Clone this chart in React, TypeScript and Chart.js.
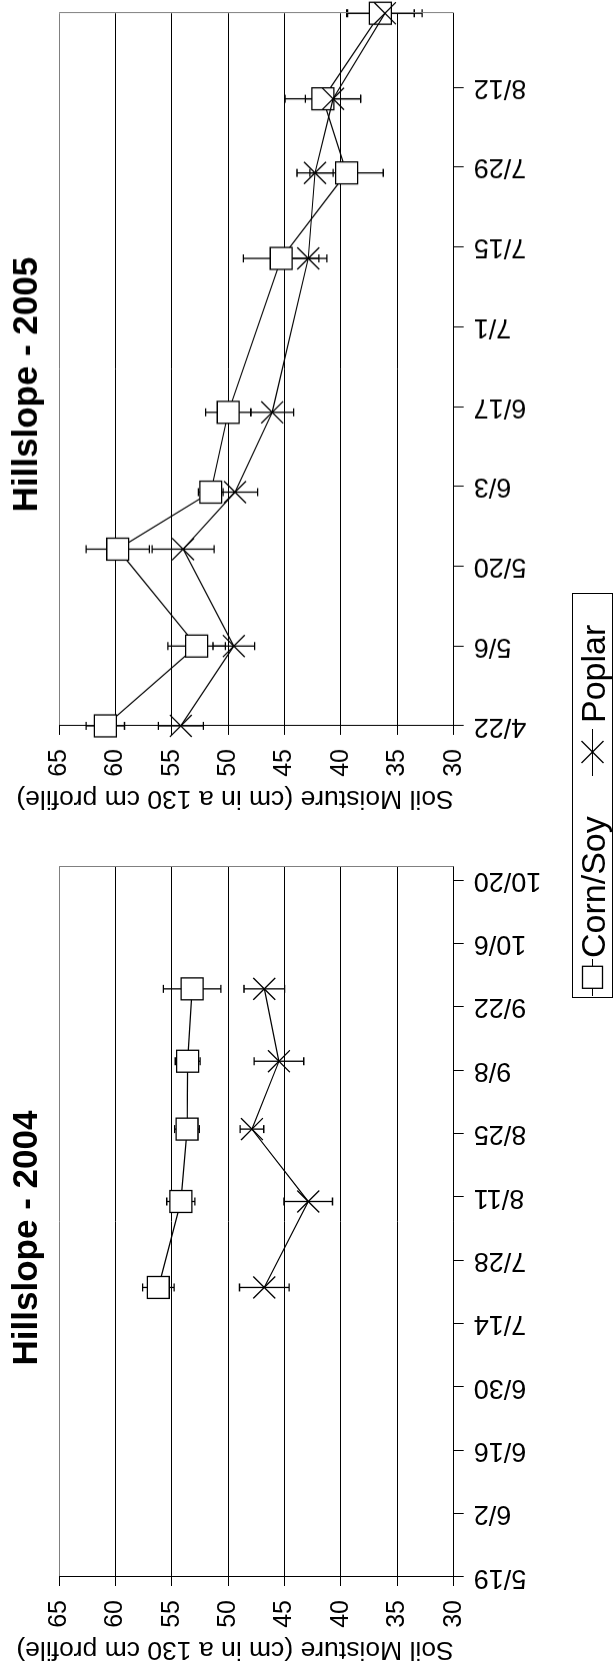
import { useEffect, useRef } from 'react';
import { Chart, registerables } from 'chart.js';

Chart.register(...registerables);

const FONT = '"Liberation Sans", Arial, Helvetica, sans-serif';

// Soil moisture axis (cm of water in a 130 cm profile)
const moistureMin = 30;
const moistureMax = 65;
const moistureStep = 5;
const moistureTitle = 'Soil Moisture (cm in a 130 cm profile)';

// Hillslope 2004
const title2004 = 'Hillslope - 2004';
const range2004 = ['5/19', '10/23'];
const ticks2004 = ['5/19', '6/2', '6/16', '6/30', '7/14', '7/28', '8/11', '8/25', '9/8', '9/22', '10/6', '10/20'];
const dates2004 = ['7/22', '8/10', '8/26', '9/10', '9/26'];
const cornSoy2004 = [56.2, 54.2, 53.65, 53.6, 53.2];
const cornSoyErr2004 = [1.4, 1.25, 1.1, 1.1, 2.55];
const poplar2004 = [46.8, 42.9, 47.9, 45.5, 46.8];
const poplarErr2004 = [2.2, 2.15, 1.05, 2.2, 1.8];

// Hillslope 2005
const title2005 = 'Hillslope - 2005';
const range2005 = ['4/22', '8/25'];
const ticks2005 = ['4/22', '5/6', '5/20', '6/3', '6/17', '7/1', '7/15', '7/29', '8/12'];
const dates2005 = ['4/22', '5/6', '5/23', '6/2', '6/16', '7/13', '7/28', '8/10', '8/25'];
const cornSoy2005 = [60.9, 52.8, 59.8, 51.55, 50.0, 45.3, 39.5, 41.6, 36.5];
const cornSoyErr2005 = [1.7, 2.55, 2.8, 1.1, 2.0, 3.35, 3.25, 3.35, 3.0];
const poplar2005 = [54.2, 49.5, 54.0, 49.4, 46.1, 42.9, 42.3, 40.7, 36.1];
const poplarErr2005 = [2.0, 1.85, 2.75, 2.0, 1.9, 1.65, 1.6, 2.45, 3.3];

const seriesNames = ['Corn/Soy', 'Poplar'];

function dayOfYear(md: string, year: number): number {
  const [m, d] = md.split('/').map(Number);
  return Math.round((Date.UTC(year, m - 1, d) - Date.UTC(year, 0, 1)) / 86400000);
}

// Vertical error bars with caps, drawn beneath the markers
const errorBars = {
  id: 'errorBars',
  beforeDatasetsDraw(chart: any) {
    const { ctx } = chart;
    const xs = chart.scales.x;
    const ys = chart.scales.y;
    ctx.save();
    ctx.strokeStyle = '#000';
    ctx.lineWidth = 1.3;
    chart.data.datasets.forEach((ds: any) => {
      const errs: number[] = ds.errors || [];
      ds.data.forEach((p: any, j: number) => {
        const e = errs[j];
        if (!e) return;
        const px = xs.getPixelForValue(p.x);
        const lo = ys.getPixelForValue(p.y - e);
        const hi = ys.getPixelForValue(p.y + e);
        ctx.beginPath();
        ctx.moveTo(px, lo);
        ctx.lineTo(px, hi);
        ctx.moveTo(px - 4, lo);
        ctx.lineTo(px + 4, lo);
        ctx.moveTo(px - 4, hi);
        ctx.lineTo(px + 4, hi);
        ctx.stroke();
      });
    });
    ctx.restore();
  },
};

// Gray plot-area border on the right side
const plotFrame = {
  id: 'plotFrame',
  beforeDatasetsDraw(chart: any) {
    const { ctx, chartArea: a } = chart;
    ctx.save();
    ctx.strokeStyle = '#808080';
    ctx.lineWidth = 1;
    const x = Math.round(a.right) + 0.5;
    ctx.beginPath();
    ctx.moveTo(x, a.top);
    ctx.lineTo(x, a.bottom);
    ctx.stroke();
    ctx.restore();
  },
};

type PanelProps = {
  title: string;
  year: number;
  range: string[];
  tickLabels: string[];
  dates: string[];
  corn: number[];
  cornErr: number[];
  poplar: number[];
  poplarErr: number[];
  left: number;
  width: number;
  yAxisWidth: number;
  rightMargin: number;
};

function Panel(props: PanelProps) {
  const ref = useRef<HTMLCanvasElement>(null);
  useEffect(() => {
    const { title, year, range, tickLabels, dates, corn, cornErr, poplar, poplarErr, yAxisWidth, rightMargin } = props;
    const pts = (vals: number[]) => vals.map((v, i) => ({ x: dayOfYear(dates[i], year), y: v }));
    const chart = new Chart(ref.current as HTMLCanvasElement, {
      type: 'line',
      data: {
        datasets: [
          {
            label: seriesNames[0],
            data: pts(corn),
            errors: cornErr,
            order: 2,
            pointStyle: 'rect',
            pointRadius: 15.5,
            pointHoverRadius: 15.5,
            pointBackgroundColor: '#ffffff',
            pointBorderColor: '#000000',
            pointBorderWidth: 1.3,
            borderColor: '#000000',
            borderWidth: 1.2,
            tension: 0,
            clip: false,
          } as any,
          {
            label: seriesNames[1],
            data: pts(poplar),
            errors: poplarErr,
            order: 1,
            pointStyle: 'crossRot',
            pointRadius: 15.5,
            pointHoverRadius: 15.5,
            pointBackgroundColor: '#000000',
            pointBorderColor: '#000000',
            pointBorderWidth: 1.3,
            borderColor: '#000000',
            borderWidth: 1.2,
            tension: 0,
            clip: false,
          } as any,
        ],
      },
      options: {
        responsive: false,
        animation: false,
        devicePixelRatio: 1,
        events: [],
        layout: { padding: 0 },
        plugins: {
          legend: { display: false },
          tooltip: { enabled: false },
          title: {
            display: true,
            text: title,
            color: '#000',
            font: { family: FONT, size: 35, weight: 'bold', lineHeight: 1.2 },
            padding: { top: 6.5, bottom: 10.6 },
          },
        },
        scales: {
          x: {
            type: 'linear',
            min: dayOfYear(range[0], year),
            max: dayOfYear(range[1], year),
            afterBuildTicks: (s: any) => {
              s.ticks = tickLabels.map((t) => ({ value: dayOfYear(t, year) }));
            },
            afterFit: (s: any) => {
              s.height = 613 - 453.7;
            },
            ticks: {
              autoSkip: false,
              minRotation: 90,
              maxRotation: 90,
              padding: 10,
              color: '#000',
              font: { family: FONT, size: 27 },
              callback: (_v: any, i: number) => tickLabels[i],
            },
            grid: { drawOnChartArea: false, drawTicks: true, tickLength: 10, color: '#000', lineWidth: 1 },
            border: { display: true, color: '#000', width: 1 },
          },
          y: {
            type: 'linear',
            position: 'left',
            min: moistureMin,
            max: moistureMax,
            afterFit: (s: any) => {
              s.width = yAxisWidth;
            },
            ticks: {
              stepSize: moistureStep,
              padding: 14,
              color: '#000',
              font: { family: FONT, size: 25 },
            },
            grid: {
              color: (c: any) => (c.tick && c.tick.value === moistureMax ? '#808080' : '#000000'),
              tickColor: '#000',
              tickLength: 9,
              lineWidth: 1,
            },
            border: { display: true, color: '#000', width: 1 },
            title: {
              display: true,
              text: moistureTitle,
              align: 'start',
              color: '#000',
              font: { family: FONT, size: 26.5, lineHeight: 1.2 },
              padding: { top: 5.5, bottom: 0 },
            },
          },
          // empty margin to the right of the plot area
          margin: {
            type: 'linear',
            position: 'right',
            display: true,
            min: 0,
            max: 1,
            ticks: { display: false },
            grid: { display: false, drawTicks: false },
            border: { display: false },
            afterFit: (s: any) => {
              s.width = rightMargin;
            },
          },
        },
      } as any,
      plugins: [errorBars, plotFrame],
    });
    return () => chart.destroy();
  }, []);
  return (
    <canvas
      ref={ref}
      width={props.width}
      height={613}
      style={{ position: 'absolute', left: props.left, top: 0, width: props.width, height: 613 }}
    />
  );
}

function Legend() {
  const text: any = {
    position: 'absolute',
    top: 0,
    height: 40,
    lineHeight: '40px',
    fontFamily: FONT,
    fontSize: 34,
    color: '#000',
    whiteSpace: 'nowrap',
  };
  return (
    <div
      style={{
        position: 'absolute',
        left: 673,
        top: 572,
        width: 405,
        height: 41,
        border: '1px solid #000',
        boxSizing: 'border-box',
        background: '#fff',
      }}
    >
      <svg width={40} height={40} style={{ position: 'absolute', left: 0, top: 0 }}>
        <line x1={1} y1={19.5} x2={38} y2={19.5} stroke="#000" strokeWidth={1.2} />
        <rect x={8.7} y={9.5} width={22} height={20} fill="#fff" stroke="#000" strokeWidth={1.3} />
      </svg>
      <span style={{ ...text, left: 39 }}>{seriesNames[0]}</span>
      <svg width={50} height={40} style={{ position: 'absolute', left: 220, top: 0 }}>
        <line x1={1} y1={19.5} x2={48} y2={19.5} stroke="#000" strokeWidth={1.2} />
        <line x1={14} y1={8.5} x2={36} y2={30.5} stroke="#000" strokeWidth={1.3} />
        <line x1={14} y1={30.5} x2={36} y2={8.5} stroke="#000" strokeWidth={1.3} />
      </svg>
      <span style={{ ...text, left: 274 }}>{seriesNames[1]}</span>
    </div>
  );
}

export default function App() {
  return (
    <div
      style={{
        position: 'absolute',
        left: 0,
        top: 0,
        width: 613,
        height: 1671,
        overflow: 'hidden',
        background: '#fff',
      }}
    >
      <div
        style={{
          position: 'absolute',
          left: 0,
          top: 0,
          width: 1671,
          height: 613,
          transformOrigin: '0 0',
          transform: 'translateY(1671px) rotate(-90deg)',
        }}
      >
        <Panel
          title={title2004}
          year={2004}
          range={range2004}
          tickLabels={ticks2004}
          dates={dates2004}
          corn={cornSoy2004}
          cornErr={cornSoyErr2004}
          poplar={poplar2004}
          poplarErr={poplarErr2004}
          left={0}
          width={866}
          yAxisWidth={94}
          rightMargin={61.7}
        />
        <Panel
          title={title2005}
          year={2005}
          range={range2005}
          tickLabels={ticks2005}
          dates={dates2005}
          corn={cornSoy2005}
          cornErr={cornSoyErr2005}
          poplar={poplar2005}
          poplarErr={poplarErr2005}
          left={851.3}
          width={870.6}
          yAxisWidth={94}
          rightMargin={64.2}
        />
        <Legend />
      </div>
    </div>
  );
}
